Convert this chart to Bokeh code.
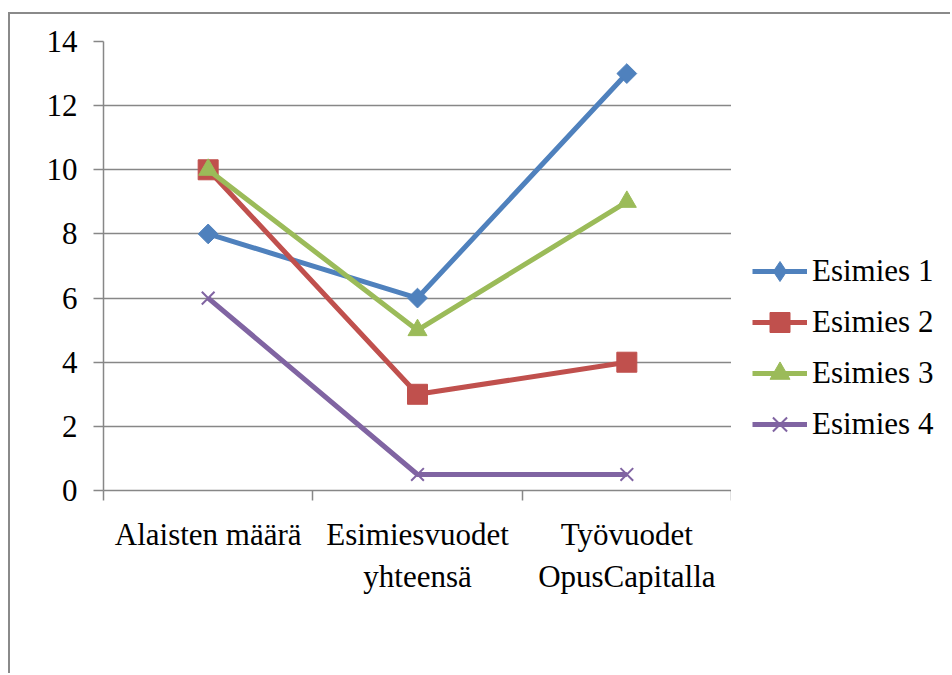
import math
from bokeh.plotting import figure
from bokeh.layouts import row
from bokeh.models import FixedTicker, Legend, LegendItem, Range1d
from bokeh.embed import file_html
from bokeh.resources import INLINE

categories = ["Alaisten määrä", "Esimiesvuodet\nyhteensä", "Työvuodet\nOpusCapitalla"]
series_names = ["Esimies 1", "Esimies 2", "Esimies 3", "Esimies 4"]
esimies_1 = [8, 6, 13]
esimies_2 = [10, 3, 4]
esimies_3 = [10, 5, 9]
esimies_4 = [6, 0.5, 0.5]
y_ticks = [0, 2, 4, 6, 8, 10, 12, 14]

values = [esimies_1, esimies_2, esimies_3, esimies_4]
colors = ["#4F81BD", "#C0504D", "#9BBB59", "#8064A2"]
markers = [("square", 14, math.pi / 4), ("square", 20, 0), ("triangle", 19, 0), ("x", 18, 0)]
legend_markers = ["diamond", "square", "triangle", "x"]

FONT = "Liberation Serif"
GRAY = "#878787"
LW = 5

p = figure(width=721, height=661, output_backend="svg", toolbar_location=None,
           x_range=Range1d(0, len(categories)), y_range=Range1d(0, 14),
           min_border_left=93, min_border_right=0, min_border_top=27, min_border_bottom=185)
p.outline_line_color = None
p.background_fill_color = "white"
p.border_fill_color = "white"

xs = [i + 0.5 for i in range(len(categories))]

# axes
p.xaxis.ticker = FixedTicker(ticks=xs, minor_ticks=list(range(len(categories) + 1)))
p.xaxis.major_label_overrides = {x: c for x, c in zip(xs, categories)}
p.xaxis.major_tick_line_color = None
p.xaxis.major_tick_out = 10
p.xaxis.major_tick_in = 0
p.xaxis.minor_tick_out = 10
p.xaxis.minor_tick_in = 0
p.xaxis.minor_tick_line_color = GRAY
p.xaxis.minor_tick_line_width = 1.5
p.xaxis.major_label_standoff = 16
p.xaxis.major_label_text_font = FONT
p.xaxis.major_label_text_font_size = "31px"
p.xaxis.major_label_text_color = "black"
p.xaxis.axis_line_color = GRAY
p.xaxis.axis_line_width = 1.5

p.yaxis.ticker = FixedTicker(ticks=y_ticks)
p.yaxis.major_tick_out = 10
p.yaxis.major_tick_in = 0
p.yaxis.minor_tick_line_color = None
p.yaxis.major_tick_line_color = GRAY
p.yaxis.major_tick_line_width = 1.5
p.yaxis.major_label_standoff = 16
p.yaxis.major_label_text_font = FONT
p.yaxis.major_label_text_font_size = "31px"
p.yaxis.major_label_text_color = "black"
p.yaxis.axis_line_color = GRAY
p.yaxis.axis_line_width = 1.5

p.xgrid.grid_line_color = None
p.ygrid.ticker = FixedTicker(ticks=y_ticks)
p.ygrid.grid_line_color = GRAY
p.ygrid.grid_line_width = 1.5

for vals, col, (mk, sz, ang) in zip(values, colors, markers):
    p.line(xs, vals, line_color=col, line_width=LW)
    if mk == "x":
        p.scatter(xs, vals, marker=mk, size=sz, line_color=col, line_width=2)
    else:
        p.scatter(xs, vals, marker=mk, size=sz, angle=ang, fill_color=col, line_color=col)

# legend panel (separate figure so the legend is not clipped by the main frame)
pl = figure(width=221, height=661, output_backend="svg", toolbar_location=None,
            x_range=Range1d(0, 1), y_range=Range1d(0, 1),
            min_border_left=0, min_border_right=0, min_border_bottom=0, min_border_top=0)
pl.axis.visible = False
pl.grid.visible = False
pl.outline_line_color = None
pl.background_fill_color = "white"
pl.border_fill_color = "white"

nan = float("nan")
items = []
for name, col, mk in zip(series_names, colors, legend_markers):
    lr = pl.line([nan], [nan], line_color=col, line_width=LW)
    if mk == "x":
        sr = pl.scatter([nan], [nan], marker=mk, line_color=col, line_width=2)
    else:
        sr = pl.scatter([nan], [nan], marker=mk, fill_color=col, line_color=col)
    items.append(LegendItem(label=name, renderers=[lr, sr]))

legend = Legend(items=items, location=(21, 41), orientation="vertical",
                glyph_width=55, glyph_height=50, label_height=50, spacing=1,
                label_standoff=5, padding=0, margin=0,
                border_line_color=None, background_fill_alpha=0,
                label_text_font=FONT, label_text_font_size="31px", label_text_color="black")
pl.add_layout(legend, "center")

layout = row(p, pl, spacing=0, margin=(14, 0, 0, 10))
layout.styles = {"box-shadow": "-2px -2px 0 0 #8a8a8a"}

open("out.html", "w").write(file_html(layout, INLINE))
